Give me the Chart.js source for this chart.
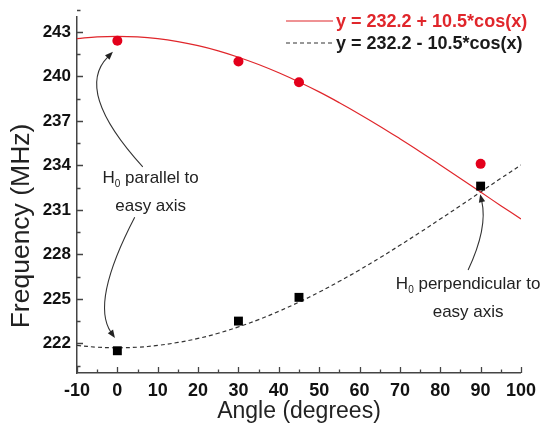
<!DOCTYPE html>
<html>
<head>
<meta charset="utf-8">
<script src="https://cdn.jsdelivr.net/npm/chart.js@4/dist/chart.umd.min.js"></script>
<style>
html,body{margin:0;padding:0;background:#fff;}
#wrap{width:543px;height:429px;position:relative;}
</style>
</head>
<body>
<div id="wrap"><canvas id="c" width="543" height="429"></canvas></div>
<script>
// ---- data ----
const curveAngles = [-10,-5,0,5,10,15,20,25,30,35,40,45,50,55,60,65,70,75,80,85,90,95,100];
const plusCurve  = [242.54,242.66,242.70,242.66,242.54,242.34,242.07,241.72,241.29,240.80,240.24,239.62,238.95,238.22,237.45,236.64,235.79,234.92,234.02,233.12,232.20,231.28,230.38];
const minusCurve = [221.86,221.74,221.70,221.74,221.86,222.06,222.33,222.68,223.11,223.60,224.16,224.78,225.45,226.18,226.95,227.76,228.61,229.48,230.38,231.28,232.20,233.12,234.02];
const pointAngles = [0,30,45,90];
const redPoints   = [242.4,241.0,239.6,234.1];
const blackPoints = [221.5,223.5,225.1,232.6];
const yTicks = [222,225,228,231,234,237,240,243];
const xTicks = [-10,0,10,20,30,40,50,60,70,80,90,100];
const legendLabels = ['y = 232.2 + 10.5*cos(x)','y = 232.2 - 10.5*cos(x)'];
const xTitle = 'Angle (degrees)';
const yTitle = 'Frequency (MHz)';

const RED = '#e0262b';
const AXIS = '#444';
const FONT = '"Liberation Sans", Arial, sans-serif';

const pairs = (xs, ys) => xs.map((x,i)=>({x:x, y:ys[i]}));

// annotations (positions in data units)
const notes = [
  {lines:[['H','0',' parallel to'],['easy axis']], x:8.25, y:233.2},
  {lines:[['H','0',' perpendicular to'],['easy axis']], x:86.9, y:226.05}
];
const arrows = [
  {p0:[6.3,233.9], m:[-4.1,238.4], p2:[-1.1,241.65]},
  {p0:[4.3,230.5], m:[-2.4,225.6], p2:[-0.6,222.36]},
  {p0:[86.9,226.95], m:[90.1,229.64], p2:[89.9,232.05]}
];

const decor = {
  id:'decor',
  afterDatasetsDraw(chart){
    const ctx = chart.ctx, xs = chart.scales.x, ys = chart.scales.y;
    const ca = chart.chartArea;
    ctx.save();
    // inward ticks
    ctx.strokeStyle = AXIS; ctx.lineWidth = 1.3;
    const xMaj = xTicks, xMin = xTicks.slice(0,-1).map(v=>v+5);
    const yMaj = yTicks, yMin = [yTicks[0]-1.5].concat(yTicks.map(v=>v+1.5));
    ctx.beginPath();
    xMaj.forEach(v=>{const p=Math.round(xs.getPixelForValue(v))+0.5; ctx.moveTo(p,ca.bottom); ctx.lineTo(p,ca.bottom-6);});
    xMin.forEach(v=>{const p=Math.round(xs.getPixelForValue(v))+0.5; ctx.moveTo(p,ca.bottom); ctx.lineTo(p,ca.bottom-3.5);});
    yMaj.forEach(v=>{const p=Math.round(ys.getPixelForValue(v))+0.5; ctx.moveTo(ca.left,p); ctx.lineTo(ca.left+6,p);});
    yMin.forEach(v=>{const p=Math.round(ys.getPixelForValue(v))+0.5; ctx.moveTo(ca.left,p); ctx.lineTo(ca.left+3.5,p);});
    ctx.stroke();

    // y axis title
    ctx.save();
    ctx.translate(22, 226); ctx.rotate(-Math.PI/2);
    ctx.font = '26.5px ' + FONT; ctx.fillStyle = '#222';
    ctx.textAlign = 'center'; ctx.textBaseline = 'middle';
    ctx.fillText(yTitle, 0, 0);
    ctx.restore();

    // legend
    const lx0 = 286, lx1 = 333, ly = [21, 43];
    ctx.lineWidth = 1.2;
    ctx.strokeStyle = RED; ctx.setLineDash([]);
    ctx.beginPath(); ctx.moveTo(lx0,ly[0]); ctx.lineTo(lx1,ly[0]); ctx.stroke();
    ctx.strokeStyle = '#333'; ctx.setLineDash([4,3]);
    ctx.beginPath(); ctx.moveTo(lx0,ly[1]); ctx.lineTo(lx1,ly[1]); ctx.stroke();
    ctx.setLineDash([]);
    ctx.font = 'bold 18px ' + FONT; ctx.textBaseline = 'middle'; ctx.textAlign = 'left';
    ctx.fillStyle = RED; ctx.fillText(legendLabels[0], 336, ly[0]+1);
    ctx.fillStyle = '#1a1a1a'; ctx.fillText(legendLabels[1], 336, ly[1]+1);

    // arrows
    ctx.strokeStyle = '#333'; ctx.fillStyle = '#222'; ctx.lineWidth = 1.1;
    arrows.forEach(a=>{
      const P0=[xs.getPixelForValue(a.p0[0]), ys.getPixelForValue(a.p0[1])];
      const M =[xs.getPixelForValue(a.m[0]),  ys.getPixelForValue(a.m[1])];
      const P2=[xs.getPixelForValue(a.p2[0]), ys.getPixelForValue(a.p2[1])];
      const C=[2*M[0]-0.5*(P0[0]+P2[0]), 2*M[1]-0.5*(P0[1]+P2[1])];
      let dx = P2[0]-C[0], dy = P2[1]-C[1]; const L=Math.hypot(dx,dy); dx/=L; dy/=L;
      const hl=8, hw=3.2;
      const bx=P2[0]-dx*hl, by=P2[1]-dy*hl;
      ctx.beginPath(); ctx.moveTo(P0[0],P0[1]);
      ctx.quadraticCurveTo(C[0],C[1],bx+dx*1,by+dy*1); ctx.stroke();
      ctx.beginPath(); ctx.moveTo(P2[0],P2[1]);
      ctx.lineTo(bx - dy*hw, by + dx*hw);
      ctx.lineTo(bx + dy*hw, by - dx*hw);
      ctx.closePath(); ctx.fill();
    });

    // annotation text
    ctx.fillStyle = '#222';
    notes.forEach(n=>{
      const cx = xs.getPixelForValue(n.x), cy = ys.getPixelForValue(n.y);
      n.lines.forEach((parts,i)=>{
        const y = cy + i*28;
        const big = '17px ' + FONT, small = '10px ' + FONT;
        let w = 0;
        parts.forEach((t,j)=>{ ctx.font = (parts.length===3 && j===1) ? small : big; w += ctx.measureText(t).width; });
        let x = cx - w/2;
        ctx.textAlign='left'; ctx.textBaseline='alphabetic';
        parts.forEach((t,j)=>{
          const sub = parts.length===3 && j===1;
          ctx.font = sub ? small : big;
          ctx.fillText(t, x, y + 6 + (sub ? 4 : 0));
          x += ctx.measureText(t).width;
        });
      });
    });
    ctx.restore();
  }
};

new Chart(document.getElementById('c'), {
  type:'scatter',
  data:{
    datasets:[
      {type:'scatter', data:pairs(pointAngles, redPoints), pointStyle:'circle', pointRadius:5, pointBackgroundColor:'#e3001b', pointBorderWidth:0, order:0},
      {type:'scatter', data:pairs(pointAngles, blackPoints), pointStyle:'rect', pointRadius:6.3, pointBackgroundColor:'#000', pointBorderWidth:0, order:0},
      {type:'line', data:pairs(curveAngles, plusCurve), borderColor:RED, borderWidth:1.2, pointRadius:0, tension:0.4, fill:false, order:1},
      {type:'line', data:pairs(curveAngles, minusCurve), borderColor:'#333', borderWidth:1.2, borderDash:[4,3], pointRadius:0, tension:0.4, fill:false, order:1}
    ]
  },
  options:{
    responsive:false, animation:false, devicePixelRatio:1,
    layout:{padding:{left:0, top:17, right:20, bottom:0}},
    plugins:{legend:{display:false}, tooltip:{enabled:false}},
    scales:{
      x:{type:'linear', min:-10, max:100,
         afterFit(s){ s.height = 56; },
         afterBuildTicks(s){ s.ticks = xTicks.map(v=>({value:v})); },
         grid:{display:false, drawTicks:false},
         border:{display:true, color:AXIS, width:1.5},
         ticks:{padding:7, color:'#111', font:{family:FONT, size:18, weight:'bold'}, maxRotation:0, autoSkip:false},
         title:{display:true, text:xTitle, color:'#222', font:{family:FONT, size:23}, padding:{top:0, bottom:4}}
      },
      y:{type:'linear', min:220, max:244,
         afterFit(s){ s.width = 77; },
         afterBuildTicks(s){ s.ticks = yTicks.map(v=>({value:v})); },
         grid:{display:false, drawTicks:false},
         border:{display:true, color:AXIS, width:1.5},
         ticks:{padding:6, color:'#111', font:{family:FONT, size:17, weight:'bold'}, autoSkip:false},
         title:{display:false}
      }
    }
  },
  plugins:[decor]
});
</script>
</body>
</html>
